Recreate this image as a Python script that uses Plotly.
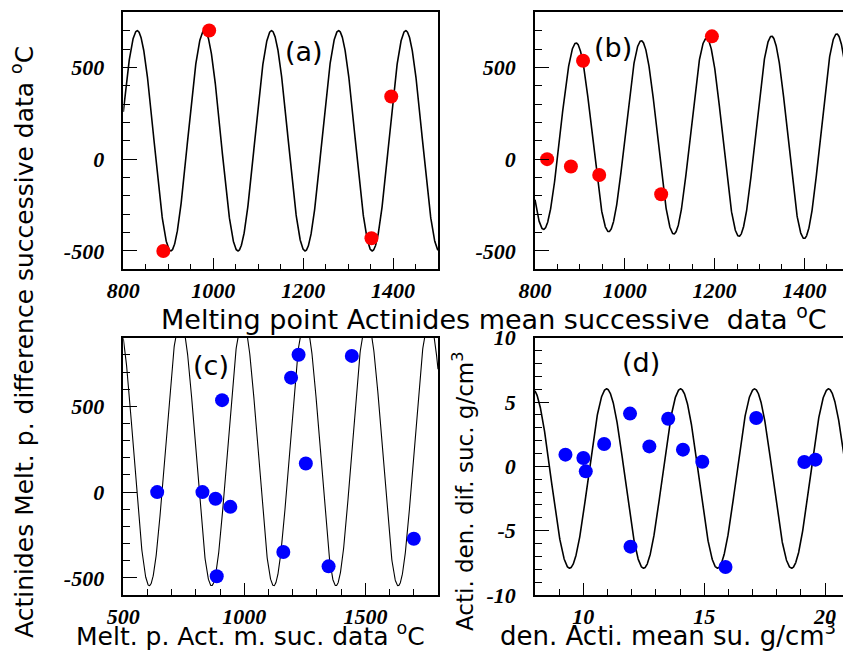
import numpy as np
import plotly.graph_objects as go

# ---------------- data ----------------
# panel (a)
a_x = [889, 991, 1352, 1396]
a_y = [-500, 701, -431, 341]
# panel (b)
b_x = [827, 880, 907, 943, 1081, 1194]
b_y = [0, -40, 536, -86, -191, 669]
# panel (c)
c_x = [640, 827, 881, 942, 886, 908, 1193, 1224, 1254, 1161, 1348, 1444, 1700]
c_y = [0, 0, -39, -86, -491, 536, 667, 801, 167, -349, -433, 794, -272]
# panel (d)
d_x = [9.26, 10.0, 10.1, 10.86, 11.93, 11.95, 12.73, 13.51, 14.12, 14.92, 15.88, 17.15, 19.14, 19.6]
d_y = [0.91, 0.65, -0.39, 1.74, 4.1, -6.24, 1.55, 3.7, 1.3, 0.36, -7.82, 3.76, 0.34, 0.52]

# fitted sinusoid parameters (offset, amplitude, period, x of a maximum, amplitude growth)
fit_a = dict(off=100, amp=600, per=149.3, peak=831, grow=0.0)
fit_b = dict(off=122, amp=511, per=145.1, peak=891.5, grow=0.085)
fit_c = dict(off=225, amp=771, per=257.0, peak=736, grow=0.0)
fit_d = dict(off=-0.95, amp=6.97, per=3.06, peak=10.96, grow=0.0)

# axis ranges / ticks
ab_xrange = [800, 1500]
ab_yrange = [-600, 800]
c_xrange = [500, 1800]
c_yrange = [-600, 900]
d_xrange = [8, 21]
d_yrange = [-10, 10]

ab_xticks = [800, 1000, 1200, 1400]
ab_yticks = [-500, 0, 500]
c_xticks = [500, 1000, 1500]
c_yticks = [-500, 0, 500]
d_xticks = [10, 15, 20]
d_yticks = [-10, -5, 0, 5, 10]


def lbl(vals):
    return ["<b><i>%s</i></b>" % v for v in vals]


def fit_curve(p, rng):
    x = np.linspace(rng[0], rng[1], 1500)
    amp = p["amp"] + p["grow"] * (x - p["peak"])
    y = p["off"] + amp * np.cos(2 * np.pi * (x - p["peak"]) / p["per"])
    return x, y


OFF = 8  # page body margin of the browser
WIN_W, WIN_H = 851, 652
W, H = WIN_W - OFF, WIN_H - OFF


def dom_x(l, r):
    return [(l - OFF) / W, min(1.0, (r - OFF) / W)]


def dom_y(t, b):
    return [1 - (b - OFF) / H, 1 - (t - OFF) / H]


tickfont = dict(family="Liberation Serif", size=22, color="black")

fig = go.Figure()

panels = [
    ("x", "y", fit_a, ab_xrange, a_x, a_y, "#ff0000"),
    ("x2", "y2", fit_b, ab_xrange, b_x, b_y, "#ff0000"),
    ("x3", "y3", fit_c, c_xrange, c_x, c_y, "#0000ff"),
    ("x4", "y4", fit_d, d_xrange, d_x, d_y, "#0000ff"),
]
for xa, ya, p, rng, px, py, col in panels:
    cx, cy = fit_curve(p, rng)
    fig.add_trace(go.Scatter(x=cx, y=cy, mode="lines", xaxis=xa, yaxis=ya,
                             line=dict(color="black", width=1.1 if xa == "x3" else 1.6),
                             showlegend=False, hoverinfo="skip"))
    fig.add_trace(go.Scatter(x=px, y=py, mode="markers", xaxis=xa, yaxis=ya,
                             marker=dict(color=col, size=14, line=dict(width=0)),
                             showlegend=False))


def xaxis(domain, rng, ticks, minor, anchor):
    return dict(domain=domain, range=rng, anchor=anchor, showgrid=False, zeroline=False,
                automargin=False,
                showline=True, linecolor="black", linewidth=1.5, mirror=True,
                ticks="inside", ticklen=12, tickwidth=1.2, tickcolor="black",
                ticklabelstandoff=1,
                tickvals=ticks, ticktext=lbl(ticks), tickfont=tickfont,
                minor=dict(dtick=minor, ticks="inside", ticklen=6, tickwidth=1.2, tickcolor="black"))


def yaxis(domain, rng, ticks, minor, anchor):
    d = xaxis(domain, rng, ticks, minor, anchor)
    d["ticklen"] = 14
    d["ticklabelstandoff"] = 13
    d["minor"]["ticklen"] = 7
    return d


x_ab_a = dom_x(123.3, 438)
x_ab_b = dom_x(535, 849.3)
y_top = dom_y(12.3, 269.3)
y_bot = dom_y(337.7, 595)

fig.update_layout(
    width=W, height=H,
    margin=dict(l=0, r=0, t=0, b=0, autoexpand=False),
    paper_bgcolor="white", plot_bgcolor="white",
    xaxis=xaxis(x_ab_a, ab_xrange, ab_xticks, 50, "y"),
    yaxis=yaxis(y_top, ab_yrange, ab_yticks, 100, "x"),
    xaxis2=xaxis(x_ab_b, ab_xrange, ab_xticks, 50, "y2"),
    yaxis2=yaxis(y_top, ab_yrange, ab_yticks, 100, "x2"),
    xaxis3=xaxis(x_ab_a, c_xrange, c_xticks, 100, "y3"),
    yaxis3=yaxis(y_bot, c_yrange, c_yticks, 100, "x3"),
    xaxis4=xaxis(x_ab_b, d_xrange, d_xticks, 1, "y4"),
    yaxis4=yaxis(y_bot, d_yrange, d_yticks, 1, "x4"),
)


def ann(text, x, y, size=26, angle=0):
    fig.add_annotation(text=text, x=(x - OFF) / W, y=1 - (y - OFF) / H, xref="paper", yref="paper",
                       showarrow=False, textangle=angle, xanchor="center", yanchor="middle",
                       font=dict(family="DejaVu Sans", size=size, color="black"))


ann("Melting point Actinides mean successive\u00a0 data <sup>o</sup>C", 494, 317, size=27)
ann("Melt. p. Act. m. suc. data <sup>o</sup>C", 250, 634, size=25)
ann("den. Acti. mean su. g/cm<sup>3</sup>", 668, 634, size=26)
ann("Actinides Melt. p. difference successive data <sup>o</sup>C", 22, 342, size=25, angle=-90)
ann("Acti. den. dif. suc. g/cm<sup>3</sup>", 463, 492, size=23, angle=-90)

ann("(a)", 304, 51, size=27)
ann("(b)", 613, 47, size=27)
ann("(c)", 211, 365, size=27)
ann("(d)", 641, 362, size=27)

fig.write_html("out.html")
